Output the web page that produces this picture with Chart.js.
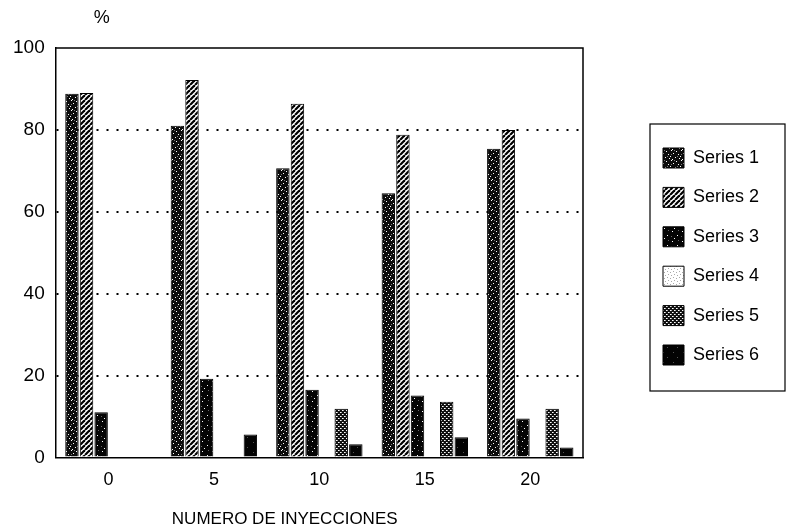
<!DOCTYPE html>
<html>
<head>
<meta charset="utf-8">
<script src="https://cdn.jsdelivr.net/npm/chart.js@4/dist/chart.umd.min.js"></script>
<style>
  html, body { margin: 0; padding: 0; background: #ffffff; }
  #wrap { width: 787px; height: 528px; }
</style>
</head>
<body>
<div id="wrap"><canvas id="c" width="787" height="528"></canvas></div>
<script>
// Percentages per number of injections
const categories = ['0', '5', '10', '15', '20'];
const seriesNames = ['Series 1', 'Series 2', 'Series 3', 'Series 4', 'Series 5', 'Series 6'];
const series1 = [88.8, 81.0, 70.6, 64.5, 75.4];
const series2 = [89.0, 92.2, 86.4, 78.8, 80.0];
const series3 = [11.0, 19.2, 16.5, 15.1, 9.5];
const series4 = [0, 0, 0, 0, 0];
const series5 = [0, 0, 11.9, 13.6, 11.9];
const series6 = [0, 5.6, 3.2, 4.9, 2.4];
const yTicks = [0, 20, 40, 60, 80, 100];
const xTitle = 'NUMERO DE INYECCIONES';
const yUnit = '%';

const FONT = '"Liberation Sans", Arial, Helvetica, sans-serif';

// Monochrome fill textures
function makePattern(size, paint) {
  const cv = document.createElement('canvas');
  cv.width = size; cv.height = size;
  const g = cv.getContext('2d');
  paint(g, size);
  return g.createPattern(cv, 'repeat');
}
function specks(g, color, pts) {
  g.fillStyle = color;
  pts.forEach(([x, y]) => g.fillRect(x, y, 1, 1));
}
const fillStipple = makePattern(10, (g, s) => {
  g.fillStyle = '#0c0c0c'; g.fillRect(0, 0, s, s);
  specks(g, '#fff', [[1,0],[6,1],[3,3],[8,4],[0,6],[5,7],[2,9],[9,8]]);
  specks(g, '#777', [[4,0],[7,6],[1,4]]);
});
const fillHatch = makePattern(5, (g, s) => {
  g.fillStyle = '#fff'; g.fillRect(0, 0, s, s);
  g.strokeStyle = '#000'; g.lineWidth = 2.2;
  for (let o = -s; o <= s; o += s) {
    g.beginPath(); g.moveTo(o, s); g.lineTo(o + s, 0); g.stroke();
  }
});
const fillDark = makePattern(10, (g, s) => {
  g.fillStyle = '#050505'; g.fillRect(0, 0, s, s);
  specks(g, '#fff', [[2,1],[7,5],[4,8]]);
  specks(g, '#666', [[8,0],[1,6]]);
});
const fillLight = makePattern(6, (g, s) => {
  g.fillStyle = '#fff'; g.fillRect(0, 0, s, s);
  specks(g, '#aaa', [[1,1],[4,2],[2,4],[5,5]]);
});
const fillDots = makePattern(4, (g, s) => {
  g.fillStyle = '#111'; g.fillRect(0, 0, s, s);
  specks(g, '#fff', [[0,0],[2,2]]);
  specks(g, '#aaa', [[1,0],[3,2]]);
});
const fillBlack = makePattern(10, (g, s) => {
  g.fillStyle = '#030303'; g.fillRect(0, 0, s, s);
  specks(g, '#555', [[3,2],[7,7]]);
});

const fills = [fillStipple, fillHatch, fillDark, fillLight, fillDots, fillBlack];
const values = [series1, series2, series3, series4, series5, series6];

const datasets = seriesNames.map((name, i) => ({
  label: name,
  data: values[i],
  backgroundColor: fills[i],
  borderColor: '#000',
  borderWidth: 1,
  categoryPercentage: 0.83,
  barPercentage: 0.92
}));

// Moves the legend beside the plot frame
const legendPlacer = {
  id: 'legendPlacer',
  afterLayout(chart) {
    const lg = chart.legend;
    const area = chart.chartArea;
    const pad = chart.options.plugins.legend.labels.padding;
    lg.left = area.right + 80 - pad;
    lg.top = area.top + 100 - pad;
    lg.right = chart.width;
    lg.bottom = chart.height;
    lg.width = lg.right - lg.left;
    lg.height = lg.bottom - lg.top;
  }
};

// Plot frame, legend box and free-standing labels
const decorations = {
  id: 'decorations',
  afterDatasetsDraw(chart) {
    const { ctx, chartArea: a } = chart;
    ctx.save();
    ctx.strokeStyle = '#000';
    ctx.lineWidth = 1.5;
    ctx.beginPath();
    ctx.moveTo(a.left, a.top);
    ctx.lineTo(a.right, a.top);
    ctx.lineTo(a.right, a.bottom);
    ctx.stroke();
    ctx.restore();
  },
  afterDraw(chart) {
    const { ctx, chartArea: a } = chart;
    const lg = chart.legend;
    const lab = chart.options.plugins.legend.labels;
    const n = chart.data.datasets.length;
    const x0 = lg.left + lab.padding;
    const y0 = lg.top + lab.padding;
    const step = lab.boxHeight + lab.padding;
    ctx.save();
    ctx.strokeStyle = '#000';
    ctx.lineWidth = 1.2;
    const bx = x0 - 13, by = y0 - 24;
    const bw = 135, bh = (n - 1) * step + lab.boxHeight + 50;
    ctx.strokeRect(bx, by, bw, bh);

    ctx.fillStyle = '#000';
    ctx.textAlign = 'center';
    ctx.textBaseline = 'middle';
    ctx.font = '18px ' + FONT;
    ctx.fillText(yUnit, a.left + 46, 18);
    ctx.font = '17px ' + FONT;
    ctx.fillText(xTitle, a.left + 229, 519);
    ctx.restore();
  }
};

new Chart(document.getElementById('c'), {
  type: 'bar',
  data: { labels: categories, datasets },
  plugins: [legendPlacer, decorations],
  options: {
    responsive: false,
    animation: false,
    layout: { padding: { left: 2, right: 204, top: 48, bottom: 25 } },
    plugins: {
      tooltip: { enabled: false },
      legend: {
        position: 'chartArea',
        align: 'start',
        labels: {
          boxWidth: 21,
          boxHeight: 20,
          padding: 19.4,
          color: '#000',
          font: { family: FONT, size: 18 }
        }
      }
    },
    scales: {
      x: {
        grid: { display: false, drawTicks: false },
        border: { display: true, color: '#000', width: 1.5 },
        ticks: { color: '#000', padding: 12, font: { family: FONT, size: 18 } }
      },
      y: {
        min: 0,
        max: 100,
        afterBuildTicks(scale) { scale.ticks = yTicks.map(v => ({ value: v })); },
        grid: {
          drawTicks: false,
          lineWidth: 2,
          color: ctx => (ctx.tick && (ctx.tick.value === 0 || ctx.tick.value === 100)) ? 'rgba(0,0,0,0)' : '#000'
        },
        border: { display: true, color: '#000', width: 1.5, dash: [2, 8] },
        ticks: { color: '#000', padding: 11, font: { family: FONT, size: 19 } }
      }
    }
  }
});
</script>
</body>
</html>
